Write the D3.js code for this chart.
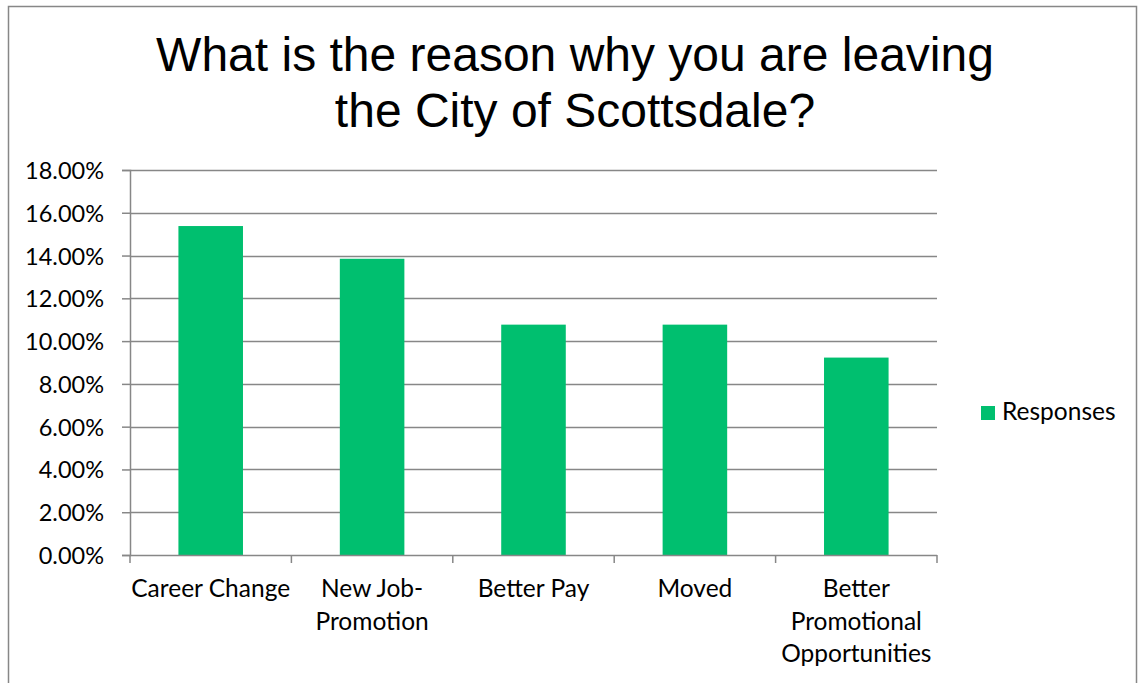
<!DOCTYPE html>
<html>
<head>
<meta charset="utf-8">
<script src="https://cdn.jsdelivr.net/npm/d3@7"></script>
<style>
  body { margin: 0; background: #fff; }
  svg { display: block; }
</style>
</head>
<body>
<div id="chart"></div>
<script>
// chart data
var titleLines = ["What is the reason why you are leaving", "the City of Scottsdale?"];
var categories = ["Career Change", "New Job-Promotion", "Better Pay", "Moved", "Better Promotional Opportunities"];
var responses = [0.1538, 0.1385, 0.1077, 0.1077, 0.0923];
var yTicks = [0, 0.02, 0.04, 0.06, 0.08, 0.10, 0.12, 0.14, 0.16, 0.18];
var seriesName = "Responses";

var svgWidth = 1142;
var svgHeight = 683;

var margin = { top: 170, right: 205, bottom: 128, left: 130 };
var width = svgWidth - margin.left - margin.right;
var height = svgHeight - margin.top - margin.bottom;

var labelFont = "Lato, 'Open Sans', sans-serif";
var green = "#00bf6f";
var gridColor = "#878787";

var svg = d3.select("#chart")
    .append("svg")
    .attr("width", svgWidth)
    .attr("height", svgHeight);

// outer frame (runs past the bottom edge)
svg.append("rect")
    .attr("x", 8.5)
    .attr("y", 6.5)
    .attr("width", 1128)
    .attr("height", 700)
    .attr("fill", "#fff")
    .attr("stroke", gridColor)
    .attr("stroke-width", 1.5);

// title
svg.append("g").selectAll("text")
    .data(titleLines)
    .enter()
    .append("text")
    .attr("x", 575)
    .attr("y", (d, i) => 71 + i * 56)
    .attr("text-anchor", "middle")
    .style("font-family", "'Liberation Sans', Arial, sans-serif")
    .style("font-size", "48px")
    .attr("fill", "#000")
    .text(d => d);

var chartGroup = svg.append("g")
    .attr("transform", `translate(${margin.left}, ${margin.top})`);

var xScale = d3.scaleBand()
    .domain(categories)
    .range([0, width])
    .paddingInner(0.6)
    .paddingOuter(0.3);

var yScale = d3.scaleLinear()
    .domain([0, 0.18])
    .range([height, 0]);

// gridlines
chartGroup.append("g")
    .selectAll("line")
    .data(yTicks.slice(1))
    .enter()
    .append("line")
    .attr("x1", 0)
    .attr("x2", width)
    .attr("y1", d => Math.round(yScale(d)) + 0.5)
    .attr("y2", d => Math.round(yScale(d)) + 0.5)
    .attr("stroke", gridColor)
    .attr("stroke-width", 1.5);

// y axis
var yAxis = d3.axisLeft(yScale)
    .tickValues(yTicks)
    .tickFormat(d3.format(".2%"))
    .tickSize(8)
    .tickPadding(18);

var yG = chartGroup.append("g").call(yAxis);
yG.select(".domain").attr("stroke", gridColor).attr("stroke-width", 1.5);
yG.selectAll(".tick line").attr("stroke", gridColor).attr("stroke-width", 1.5);
yG.selectAll(".tick text")
    .style("font-family", labelFont)
    .style("font-size", "23.5px")
    .attr("fill", "#000")
    .attr("dy", "0.36em");

// bars
chartGroup.selectAll("rect.bar")
    .data(responses)
    .enter()
    .append("rect")
    .attr("class", "bar")
    .attr("x", (d, i) => xScale(categories[i]))
    .attr("y", d => yScale(d))
    .attr("width", xScale.bandwidth())
    .attr("height", d => height - yScale(d))
    .attr("fill", green);

// x axis line + category ticks at band edges
var step = xScale.step();
var xG = chartGroup.append("g").attr("transform", `translate(0, ${height})`);
xG.append("line")
    .attr("x1", 0).attr("x2", width)
    .attr("y1", 0.5).attr("y2", 0.5)
    .attr("stroke", gridColor)
    .attr("stroke-width", 1.5);
xG.selectAll("line.tk")
    .data(d3.range(categories.length + 1))
    .enter()
    .append("line")
    .attr("class", "tk")
    .attr("x1", d => d * step).attr("x2", d => d * step)
    .attr("y1", 0).attr("y2", 8)
    .attr("stroke", gridColor)
    .attr("stroke-width", 1.5);

// category labels, wrapped to the band width
var labels = xG.selectAll("text.cat")
    .data(categories)
    .enter()
    .append("text")
    .attr("class", "cat")
    .attr("x", d => xScale(d) + xScale.bandwidth() / 2)
    .attr("y", 42)
    .attr("text-anchor", "middle")
    .style("font-family", labelFont)
    .style("font-size", "24.5px")
    .attr("fill", "#000");

labels.each(function(d) {
    var text = d3.select(this);
    var x = text.attr("x");
    // split on spaces and after hyphens
    var words = d.match(/[^\s-]+-?/g);
    var lines = [];
    var line = "";
    var probe = text.append("tspan");
    words.forEach(function(w) {
        var sep = (line === "" || line.endsWith("-")) ? "" : " ";
        var trial = line + sep + w;
        probe.text(trial);
        if (line !== "" && probe.node().getComputedTextLength() > step) {
            lines.push(line);
            line = w;
        } else {
            line = trial;
        }
    });
    lines.push(line);
    probe.remove();
    lines.forEach(function(l, i) {
        text.append("tspan")
            .attr("x", x)
            .attr("dy", i === 0 ? 0 : 32.5)
            .text(l);
    });
});

// legend
var legend = svg.append("g").attr("transform", "translate(981, 406)");
legend.append("rect")
    .attr("width", 14)
    .attr("height", 14)
    .attr("fill", green);
legend.append("text")
    .attr("x", 21)
    .attr("y", 14)
    .style("font-family", labelFont)
    .style("font-size", "24.5px")
    .attr("fill", "#000")
    .text(seriesName);
</script>
</body>
</html>
